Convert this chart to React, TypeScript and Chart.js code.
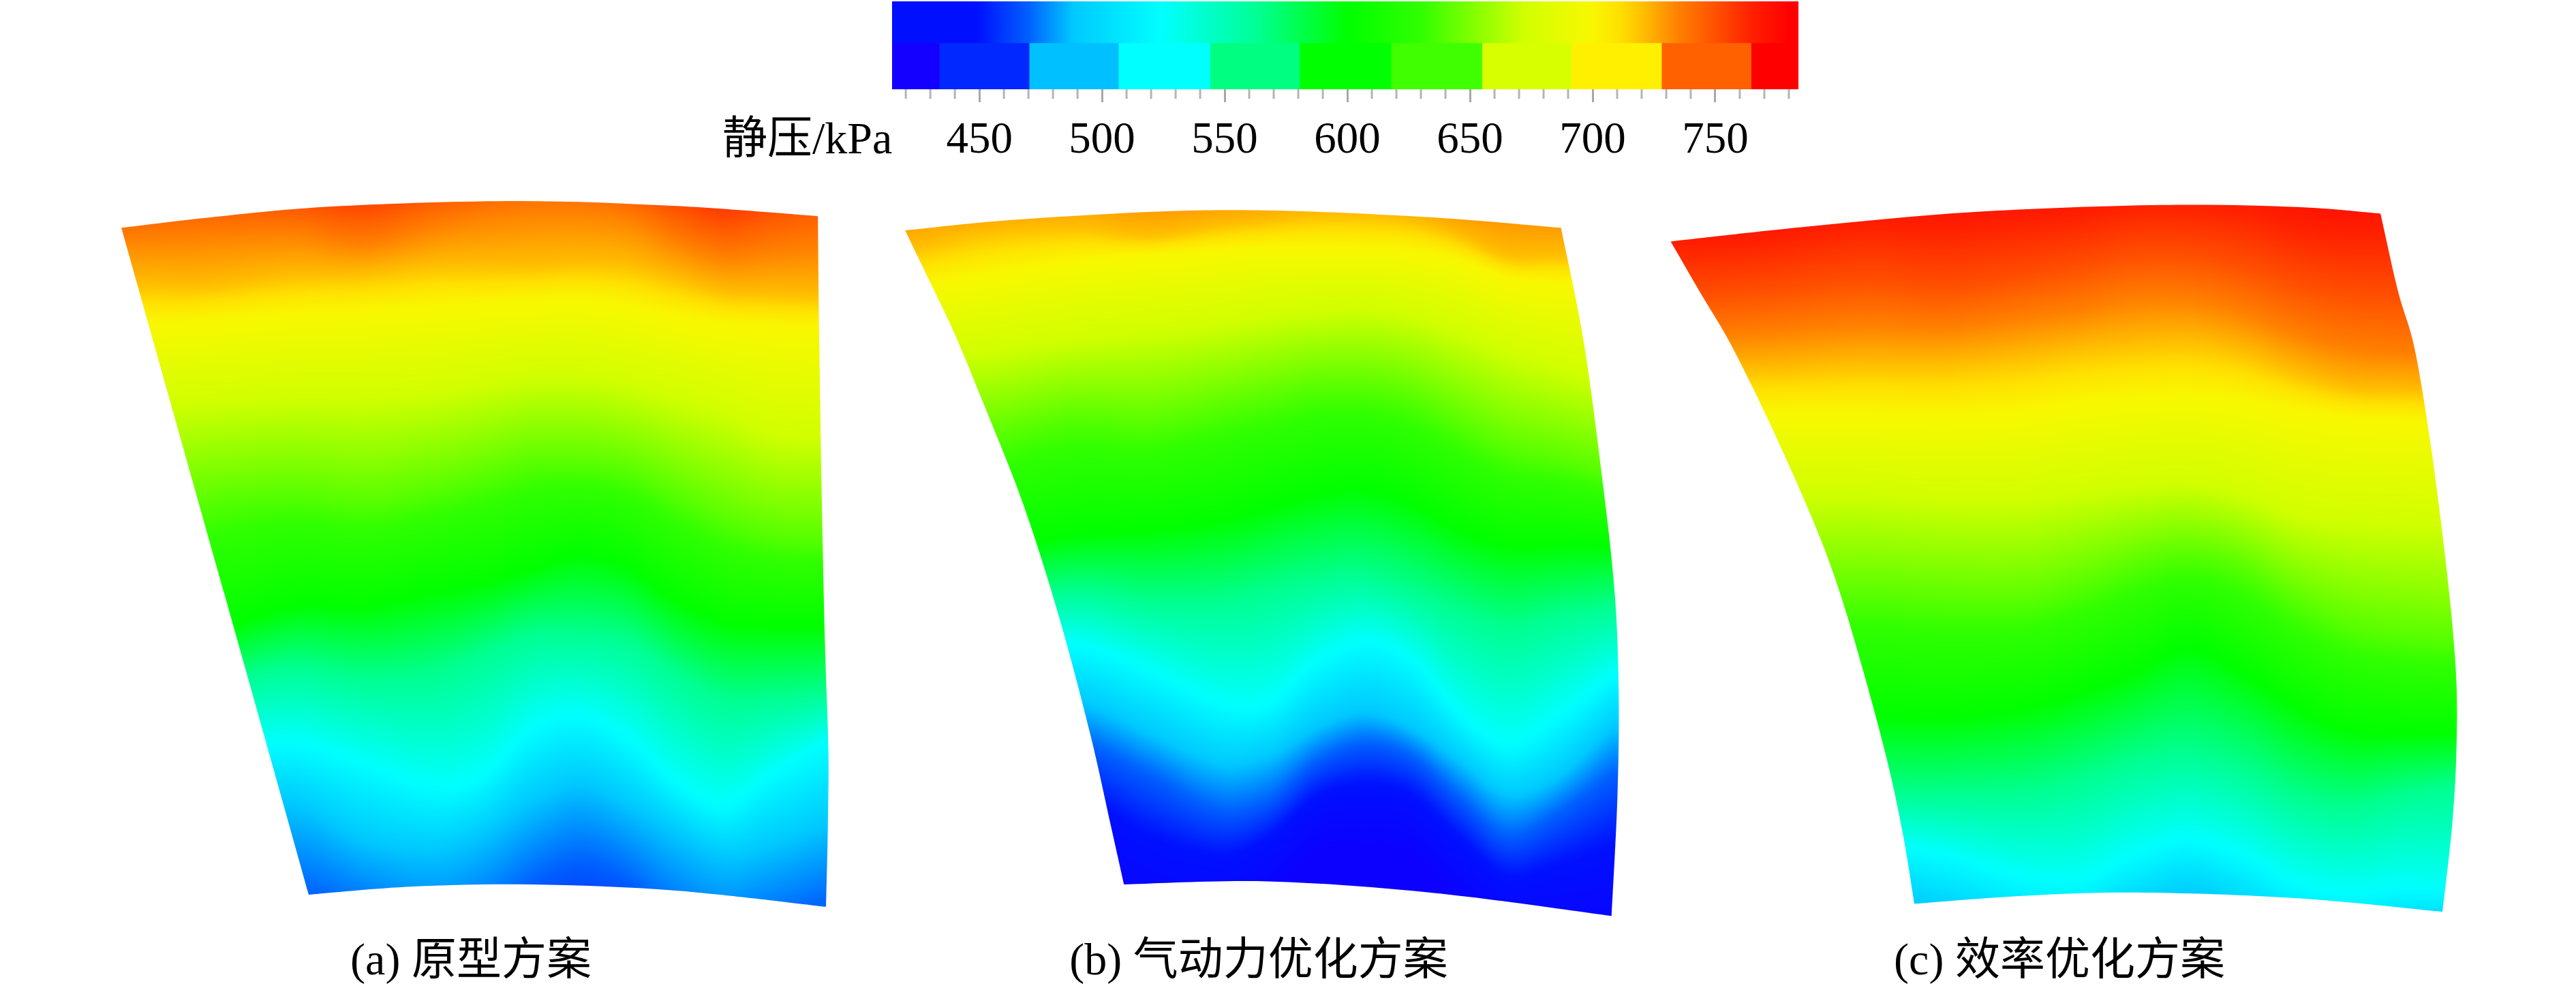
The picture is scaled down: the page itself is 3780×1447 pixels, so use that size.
import React, { useEffect, useRef } from "react";
import { Chart, registerables } from "chart.js";

Chart.register(...registerables);

const SERIF = '"Liberation Serif", "Noto Sans CJK SC", serif';

const cmLevels = [414, 449, 470, 488, 524, 564, 600, 630, 655, 672, 699, 711, 720, 735, 750, 765, 780, 790];
const cmColors = ["#0c00ff", "#0010ff", "#0060ff", "#00c8ff", "#00ffff", "#00ff90", "#00ff00", "#30ff00", "#90ff00", "#d0ff00", "#f8f800", "#ffe000", "#ffc000", "#ff8000", "#ff5000", "#ff2000", "#ff0000", "#ff0000"];

// Discrete half of the colour bar
const bandEdges = [414.4, 433.7, 470.3, 506.7, 544, 580.5, 617.8, 654.9, 691.4, 728.1, 764.6, 783.9];
const bandColors = ["#1400ff", "#0028ff", "#00c0ff", "#00ffff", "#00ff80", "#00ff00", "#40ff00", "#d8ff00", "#fff000", "#ff6000", "#ff0000"];
const barMin = 414.4;
const barMax = 783.9;
const majorTicks = [450, 500, 550, 600, 650, 700, 750];
const minorTicks = [420, 430, 440, 460, 470, 480, 490, 510, 520, 530, 540, 560, 570, 580, 590, 610, 620, 630, 640, 660, 670, 680, 690, 710, 720, 730, 740, 760, 770, 780];
const barTitle = "静压/kPa";

// Stations along the blade pitch direction
const stations = [40, 200, 400, 550, 700, 800, 900, 1000, 1100, 1200, 1300, 1400, 1520];

// Panel (a): isobars, span position at each station
const aLevels = [748, 735, 720, 700, 672, 640, 600, 564, 524, 488, 470];
const aIsobars = [
  [20, 20, 30, 48, 10, -10, -30, -25, 0, 40, 72, 50, 20],
  [95, 90, 85, 105, 70, 50, 40, 40, 55, 100, 130, 120, 110],
  [185, 190, 170, 165, 150, 150, 150, 145, 150, 175, 200, 205, 210],
  [260, 255, 240, 235, 225, 220, 215, 212, 225, 245, 260, 265, 268],
  [430, 420, 410, 410, 400, 385, 370, 370, 385, 410, 440, 480, 490],
  [680, 620, 600, 615, 590, 565, 540, 540, 555, 600, 650, 680, 690],
  [900, 880, 820, 820, 790, 775, 745, 720, 745, 810, 850, 860, 860],
  [1000, 980, 940, 960, 950, 910, 875, 875, 890, 950, 1000, 1000, 990],
  [1130, 1110, 1090, 1130, 1175, 1150, 1060, 1035, 1080, 1165, 1210, 1150, 1085],
  [1220, 1210, 1210, 1280, 1300, 1265, 1205, 1170, 1210, 1265, 1310, 1290, 1250],
  [1400, 1390, 1385, 1430, 1480, 1440, 1365, 1325, 1360, 1440, 1480, 1450, 1405],
];
const aTop = [[40, 73], [250, 50], [500, 30], [870, 20], [1200, 30], [1497, 50]];
const aRight = [[1497, 50], [1500, 300], [1505, 600], [1512, 900], [1519, 1100], [1518, 1250], [1514, 1412]];
const aBottom = [[1514, 1412], [1200, 1380], [900, 1368], [650, 1372], [432, 1388]];
const aLeft = [[432, 1388], [257, 800], [40, 73]];

// Panel (b)
const bLevels = [728, 720, 700, 672, 640, 600, 564, 524, 488, 470, 449];
const bIsobars = [
  [60, 40, 25, 40, 30, 20, 10, 10, 20, 50, 70, 75, 75],
  [120, 85, 75, 90, 70, 60, 50, 50, 60, 90, 130, 130, 130],
  [190, 165, 135, 125, 115, 110, 110, 112, 118, 135, 170, 178, 178],
  [330, 320, 295, 280, 265, 250, 240, 235, 250, 280, 320, 350, 380],
  [500, 490, 450, 460, 430, 410, 390, 390, 410, 460, 510, 530, 560],
  [720, 710, 680, 670, 650, 625, 600, 590, 620, 670, 700, 700, 700],
  [820, 820, 790, 810, 810, 790, 770, 760, 790, 830, 860, 840, 820],
  [900, 900, 895, 945, 1010, 1010, 930, 890, 925, 1030, 1090, 1040, 955],
  [1010, 1010, 1010, 1070, 1130, 1115, 1060, 1030, 1060, 1125, 1190, 1160, 1060],
  [1090, 1090, 1090, 1150, 1220, 1200, 1125, 1090, 1115, 1195, 1270, 1230, 1150],
  [1190, 1190, 1190, 1270, 1310, 1275, 1195, 1170, 1190, 1275, 1350, 1330, 1290],
];
const bTop = [[40, 78], [300, 55], [700, 38], [1100, 50], [1412, 73]];
const bRight = [[1412, 73], [1460, 300], [1500, 580], [1525, 800], [1533, 1000], [1530, 1200], [1518, 1430]];
const bBottom = [[1518, 1430], [1150, 1385], [800, 1362], [498, 1368]];
const bLeft = [[498, 1368], [470, 1250], [427, 1070], [362, 840], [288, 620], [200, 410], [145, 285], [100, 195], [40, 78]];

// Panel (c)
const cLevels = [765, 750, 735, 720, 700, 672, 640, 600, 564, 524, 488];
const cIsobars = [
  [110, 100, 70, 75, 60, 50, 30, 30, 40, 70, 85, 80, 80],
  [210, 200, 180, 190, 170, 150, 130, 130, 150, 185, 205, 210, 210],
  [290, 280, 265, 270, 250, 235, 215, 215, 240, 280, 310, 320, 320],
  [360, 355, 345, 345, 330, 315, 305, 300, 320, 360, 390, 395, 400],
  [435, 435, 436, 440, 430, 415, 405, 400, 410, 430, 445, 450, 455],
  [600, 600, 600, 610, 610, 595, 585, 580, 600, 640, 655, 660, 665],
  [830, 820, 800, 810, 810, 780, 740, 720, 745, 810, 860, 880, 890],
  [1100, 1080, 1040, 1040, 1020, 990, 950, 900, 950, 1020, 1065, 1070, 1070],
  [1190, 1190, 1190, 1190, 1185, 1160, 1125, 1110, 1140, 1195, 1215, 1190, 1170],
  [1280, 1280, 1285, 1310, 1355, 1360, 1310, 1280, 1310, 1365, 1385, 1375, 1385],
  [1395, 1395, 1395, 1430, 1470, 1470, 1430, 1395, 1430, 1480, 1500, 1470, 1440],
];
const cTop = [[40, 100], [300, 70], [600, 42], [950, 28], [1200, 32], [1357, 45]];
const cRight = [[1357, 45], [1390, 200], [1420, 310], [1450, 500], [1480, 750], [1497, 950], [1498, 1100], [1490, 1250], [1472, 1422]];
const cBottom = [[1472, 1422], [1200, 1395], [920, 1384], [700, 1390], [492, 1406]];
const cLeft = [[492, 1406], [471, 1270], [443, 1130], [398, 950], [350, 780], [300, 640], [220, 450], [150, 300], [100, 210], [40, 100]];

const captions = ["(a) 原型方案", "(b) 气动力优化方案", "(c) 效率优化方案"];

function hexToRgb(h: string) {
  return [parseInt(h.slice(1, 3), 16), parseInt(h.slice(3, 5), 16), parseInt(h.slice(5, 7), 16)];
}

const LUT_MIN = 400;
const LUT_MAX = 800;
const lut = (() => {
  const n = (LUT_MAX - LUT_MIN) * 4 + 1;
  const out = new Uint8ClampedArray(n * 3);
  const rgb = cmColors.map(hexToRgb);
  for (let i = 0; i < n; i++) {
    const v = LUT_MIN + i / 4;
    let k = 0;
    while (k < cmLevels.length - 2 && v > cmLevels[k + 1]) k++;
    const t = Math.max(0, Math.min(1, (v - cmLevels[k]) / (cmLevels[k + 1] - cmLevels[k])));
    for (let c = 0; c < 3; c++) out[i * 3 + c] = rgb[k][c] + (rgb[k + 1][c] - rgb[k][c]) * t;
  }
  return out;
})();

// Smooth reading of an isobar between its stations (rendering only)
function hermite(xs: number[], ys: number[], xIn: number) {
  const n = xs.length;
  const x = Math.max(xs[0], Math.min(xs[n - 1], xIn));
  let i = 0;
  while (i < n - 2 && x > xs[i + 1]) i++;
  const h = xs[i + 1] - xs[i];
  const t = (x - xs[i]) / h;
  const s = (a: number) => {
    const l = Math.max(0, a - 1);
    const r = Math.min(n - 1, a + 1);
    return (ys[r] - ys[l]) / (xs[r] - xs[l]);
  };
  const m0 = s(i) * h;
  const m1 = s(i + 1) * h;
  const t2 = t * t;
  const t3 = t2 * t;
  return (2 * t3 - 3 * t2 + 1) * ys[i] + (t3 - 2 * t2 + t) * m0 + (-2 * t3 + 3 * t2) * ys[i + 1] + (t3 - t2) * m1;
}

function traceEdge(ctx: CanvasRenderingContext2D, pts: number[][], first: boolean) {
  if (first) ctx.moveTo(pts[0][0], pts[0][1]);
  else ctx.lineTo(pts[0][0], pts[0][1]);
  for (let i = 0; i < pts.length - 1; i++) {
    const p0 = pts[Math.max(0, i - 1)];
    const p1 = pts[i];
    const p2 = pts[i + 1];
    const p3 = pts[Math.min(pts.length - 1, i + 2)];
    ctx.bezierCurveTo(
      p1[0] + (p2[0] - p0[0]) / 6,
      p1[1] + (p2[1] - p0[1]) / 6,
      p2[0] - (p3[0] - p1[0]) / 6,
      p2[1] - (p3[1] - p1[1]) / 6,
      p2[0],
      p2[1]
    );
  }
}

type PanelProps = {
  levels: number[];
  isobars: number[][];
  edges: number[][][];
  caption: string;
  left: number;
  originX: number;
  kx: number;
};

const PANEL_W = 1300;
const PANEL_TOP = 280;
const PANEL_H = 1190;

function Panel({ levels, isobars, edges, caption, left, originX, kx }: PanelProps) {
  const ref = useRef<HTMLCanvasElement | null>(null);
  useEffect(() => {
    const field = {
      id: "field",
      beforeDatasetsDraw(chart: any) {
        const xS = chart.scales.x;
        const yS = chart.scales.y;
        const all = edges.flat();
        const pxs = all.map((p) => xS.getPixelForValue(p[0]));
        const pys = all.map((p) => yS.getPixelForValue(p[1]));
        const x0 = Math.floor(Math.min(...pxs)) - 6;
        const x1 = Math.ceil(Math.max(...pxs)) + 6;
        const y0 = Math.floor(Math.min(...pys)) - 6;
        const y1 = Math.ceil(Math.max(...pys)) + 6;
        const w = x1 - x0;
        const h = y1 - y0;
        const off = document.createElement("canvas");
        off.width = w;
        off.height = h;
        const oc = off.getContext("2d")!;
        const img = oc.createImageData(w, h);
        const n = levels.length;
        const ly = new Float64Array(n);
        for (let px = 0; px < w; px++) {
          const dx = xS.getValueForPixel(x0 + px + 0.5);
          for (let k = 0; k < n; k++) {
            ly[k] = hermite(stations, isobars[k], dx);
            if (k > 0 && ly[k] < ly[k - 1] + 1) ly[k] = ly[k - 1] + 1;
          }
          let seg = 0;
          for (let py = 0; py < h; py++) {
            const dy = yS.getValueForPixel(y0 + py + 0.5);
            while (seg < n - 2 && dy > ly[seg + 1]) seg++;
            const v = levels[seg] + ((dy - ly[seg]) / (ly[seg + 1] - ly[seg])) * (levels[seg + 1] - levels[seg]);
            const idx = Math.max(0, Math.min((LUT_MAX - LUT_MIN) * 4, Math.round((v - LUT_MIN) * 4)));
            const o = (py * w + px) * 4;
            img.data[o] = lut[idx * 3];
            img.data[o + 1] = lut[idx * 3 + 1];
            img.data[o + 2] = lut[idx * 3 + 2];
            img.data[o + 3] = 255;
          }
        }
        oc.putImageData(img, 0, 0);
        const ctx = chart.ctx;
        ctx.save();
        ctx.beginPath();
        edges.forEach((edge, i) => {
          traceEdge(ctx, edge.map((p) => [xS.getPixelForValue(p[0]), yS.getPixelForValue(p[1])]), i === 0);
        });
        ctx.closePath();
        ctx.clip();
        (ctx as any).filter = "blur(4px)";
        ctx.drawImage(off, x0, y0);
        ctx.restore();
      },
    };
    const isoSets = levels.map((lv, k) => ({
      label: `${lv} kPa`,
      data: stations.map((x, i) => ({ x, y: isobars[k][i] })),
      showLine: false,
      pointRadius: 0,
    }));
    const outlineSet = {
      label: "outline",
      data: edges.flat().map((p) => ({ x: p[0], y: p[1] })),
      showLine: false,
      pointRadius: 0,
    };
    const chart = new Chart(ref.current!, {
      type: "scatter",
      data: { datasets: [...isoSets, outlineSet] },
      plugins: [field],
      options: {
        animation: false,
        responsive: false,
        devicePixelRatio: 1,
        layout: { padding: 0 },
        scales: {
          x: { type: "linear", display: false, min: (left - originX) * kx, max: (left + PANEL_W - originX) * kx },
          y: { type: "linear", display: false, reverse: true, min: 0, max: 1447 },
        },
        plugins: {
          legend: { display: false },
          tooltip: { enabled: false },
          title: {
            display: true,
            text: caption,
            position: "bottom",
            color: "#000",
            font: { family: SERIF, size: 66, weight: "normal", lineHeight: 1.2 },
            padding: { top: 16, bottom: 18 },
          },
        },
      },
    } as any);
    return () => chart.destroy();
  }, []);
  return (
    <canvas
      ref={ref}
      width={PANEL_W}
      height={PANEL_H}
      style={{ position: "absolute", left, top: PANEL_TOP, width: PANEL_W, height: PANEL_H }}
    />
  );
}

function ColorBar() {
  const ref = useRef<HTMLCanvasElement | null>(null);
  useEffect(() => {
    const minor = {
      id: "minorTicks",
      afterDraw(chart: any) {
        const ctx = chart.ctx;
        const xS = chart.scales.x;
        const b = chart.chartArea.bottom;
        ctx.save();
        ctx.strokeStyle = "#b4b4b4";
        ctx.lineWidth = 3;
        minorTicks.forEach((v) => {
          const p = xS.getPixelForValue(v);
          ctx.beginPath();
          ctx.moveTo(p, b);
          ctx.lineTo(p, b + 14);
          ctx.stroke();
        });
        ctx.restore();
      },
    };
    const gradientFill = (c: any) => {
      const chart = c.chart;
      const xS = chart.scales.x;
      if (!chart.chartArea || !xS) return cmColors[0];
      const a = xS.getPixelForValue(barMin);
      const b = xS.getPixelForValue(barMax);
      const g = chart.ctx.createLinearGradient(a, 0, b, 0);
      cmLevels.forEach((lv, i) => {
        if (lv >= barMin && lv <= barMax) g.addColorStop((lv - barMin) / (barMax - barMin), cmColors[i]);
      });
      return g;
    };
    const chart = new Chart(ref.current!, {
      type: "bar",
      data: {
        labels: ["连续", "分级"],
        datasets: [
          {
            label: "连续色标",
            data: [[barMin, barMax], null],
            backgroundColor: gradientFill,
            grouped: false,
            barPercentage: 1,
            categoryPercentage: 1,
          },
          ...bandColors.map((col, i) => ({
            label: `分级${i + 1}`,
            data: [null, [bandEdges[i], bandEdges[i + 1]]],
            backgroundColor: col,
            grouped: false,
            barPercentage: 1,
            categoryPercentage: 1,
          })),
        ],
      },
      plugins: [minor],
      options: {
        indexAxis: "y",
        animation: false,
        responsive: false,
        devicePixelRatio: 1,
        layout: { padding: { left: 59, right: 71, top: 0, bottom: 0 } },
        scales: {
          y: { display: false },
          x: {
            type: "linear",
            min: barMin,
            max: barMax,
            position: "bottom",
            border: { display: false },
            grid: { drawOnChartArea: false, drawTicks: true, tickLength: 19, tickColor: "#a8a8a8", tickWidth: 3 },
            afterBuildTicks: (s: any) => {
              s.ticks = majorTicks.map((value) => ({ value }));
            },
            afterFit: (s: any) => {
              s.height = 134;
            },
            ticks: {
              autoSkip: false,
              maxRotation: 0,
              color: "#000",
              padding: 24,
              font: { family: SERIF, size: 65, lineHeight: 1 },
              callback: (v: any) => String(v),
            },
          },
        },
        plugins: { legend: { display: false }, tooltip: { enabled: false } },
      },
    } as any);
    return () => chart.destroy();
  }, []);
  return (
    <div style={{ position: "absolute", left: 1250, top: 2, width: 1460, height: 260, overflow: "hidden" }}>
      <canvas ref={ref} width={1460} height={270} style={{ position: "absolute", left: 0, top: -7, width: 1460, height: 270 }} />
    </div>
  );
}

export default function App() {
  return (
    <div style={{ position: "fixed", left: 0, top: 0, width: 3780, height: 1447, overflow: "hidden", background: "#fff" }}>
      <ColorBar />
      <div style={{ position: "absolute", left: 1060, top: 170, fontFamily: SERIF, fontSize: 66, lineHeight: 1, color: "#000", whiteSpace: "nowrap" }}>
        {barTitle}
      </div>
      <Panel levels={aLevels} isobars={aIsobars} edges={[aTop, aRight, aBottom, aLeft]} caption={captions[0]} left={41} originX={150} kx={1.4255} />
      <Panel levels={bLevels} isobars={bIsobars} edges={[bTop, bRight, bBottom, bLeft]} caption={captions[1]} left={1197} originX={1300} kx={1.4255} />
      <Panel levels={cLevels} isobars={cIsobars} edges={[cTop, cRight, cBottom, cLeft]} caption={captions[2]} left={2372} originX={2420} kx={1.2645} />
    </div>
  );
}
